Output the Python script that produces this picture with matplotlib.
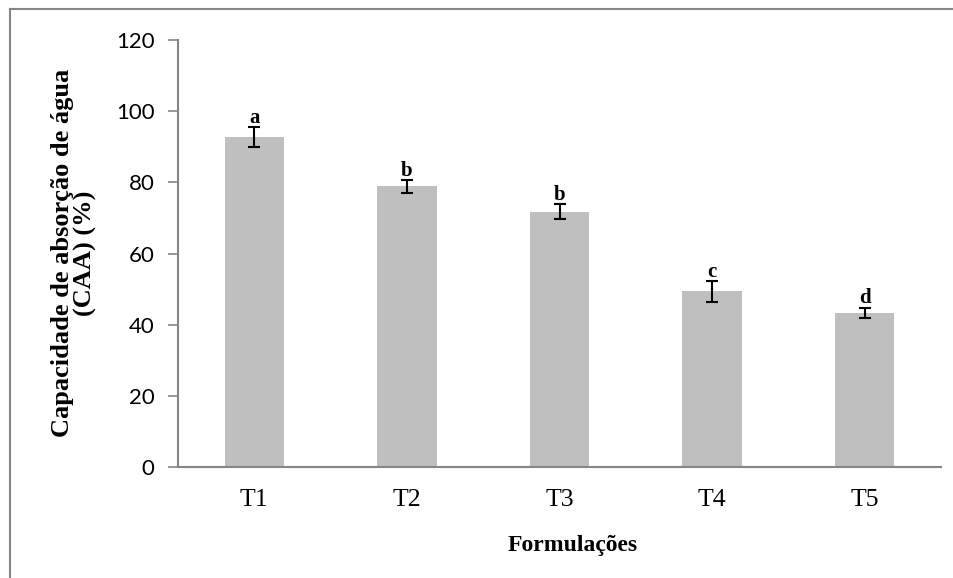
import matplotlib
matplotlib.use("Agg")
import matplotlib.pyplot as plt
from matplotlib.lines import Line2D

categories = ["T1", "T2", "T3", "T4", "T5"]
values = [92.8, 78.9, 71.8, 49.4, 43.3]
errors = [2.8, 1.8, 2.2, 2.9, 1.5]
letters = ["a", "b", "b", "c", "d"]
yticks = [0, 20, 40, 60, 80, 100, 120]

W, H = 954, 578
fig = plt.figure(figsize=(W / 100, H / 100), dpi=100)
ax = fig.add_axes([178 / W, 1 - 467 / H, (941 - 178) / W, (467 - 40) / H])

serif = ["Liberation Serif", "DejaVu Serif"]
sans = ["Lato", "DejaVu Sans"]
grey = "#868686"

x = list(range(len(categories)))
ax.bar(x, values, width=0.39, color="#BFBFBF", edgecolor="none", zorder=2)
ax.errorbar(x, values, yerr=errors, fmt="none", ecolor="black",
            elinewidth=1.5, capsize=4.3, capthick=1.5, zorder=3)
for xi, v, e, l in zip(x, values, errors, letters):
    ax.annotate(l, (xi, v + e), xytext=(0, 3), textcoords="offset points",
                ha="center", va="baseline", fontsize=15, fontweight="bold",
                family=serif)

ax.set_xlim(-0.5, len(categories) - 0.5)
ax.set_ylim(0, 120)
ax.set_yticks(yticks)
ax.set_yticklabels([str(t) for t in yticks], family=sans, fontsize=16)
ax.set_xticks(x)
ax.set_xticklabels(categories, family=serif, fontsize=18.5)
ax.tick_params(axis="x", length=0, pad=16)
ax.tick_params(axis="y", length=7, width=1.2, color=grey, pad=10)

for s in ["top", "right"]:
    ax.spines[s].set_visible(False)
for s in ["left", "bottom"]:
    ax.spines[s].set_color(grey)
    ax.spines[s].set_linewidth(1.5)

fig.text(573 / W, 1 - 546 / H, "Formulações", ha="center", va="center",
         fontsize=17, fontweight="bold", family=serif)
fig.text(74 / W, 1 - 253 / H, "Capacidade de absorção de água\n(CAA) (%)",
         ha="center", va="center", rotation=90, fontsize=19,
         fontweight="bold", family=serif, linespacing=1.0)

# figure border (top and left visible)
fig.add_artist(Line2D([10 / W, 10 / W], [0, 1 - 9 / H], transform=fig.transFigure,
                      color=grey, linewidth=1.5))
fig.add_artist(Line2D([10 / W, 1], [1 - 9 / H, 1 - 9 / H], transform=fig.transFigure,
                      color=grey, linewidth=1.5))

fig.savefig("out.png", dpi=100)
